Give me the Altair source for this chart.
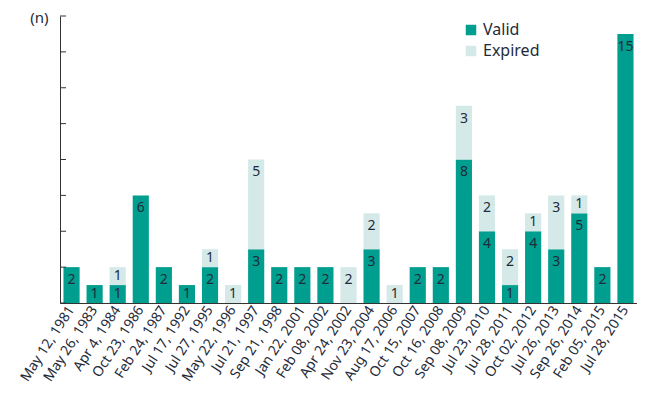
import altair as alt
import pandas as pd

dates = ["May 12, 1981", "May 26, 1983", "Apr 4, 1984", "Oct 23, 1986", "Feb 24, 1987",
         "Jul 17, 1992", "Jul 27, 1995", "May 22, 1996", "Jul 21, 1997", "Sep 21, 1998",
         "Jan 22, 2001", "Feb 08, 2002", "Apr 24, 2002", "Nov 23, 2004", "Aug 17, 2006",
         "Oct 15, 2007", "Oct 16, 2008", "Sep 08, 2009", "Jul 23, 2010", "Jul 28, 2011",
         "Oct 02, 2012", "Jul 26, 2013", "Sep 26, 2014", "Feb 05, 2015", "Jul 28, 2015"]
valid = [2, 1, 1, 6, 2, 1, 2, 0, 3, 2, 2, 2, 0, 3, 0, 2, 2, 8, 4, 1, 4, 3, 5, 2, 15]
expired = [0, 0, 1, 0, 0, 0, 1, 1, 5, 0, 0, 0, 2, 2, 1, 0, 0, 3, 2, 2, 1, 3, 1, 0, 0]
statuses = ["Valid", "Expired"]
tick_values = [0, 2, 4, 6, 8, 10, 12, 14, 16]

rows = []
for d, v, e in zip(dates, valid, expired):
    rows.append({"date": d, "status": "Valid", "n": v, "y0": 0, "y1": v})
    rows.append({"date": d, "status": "Expired", "n": e, "y0": v, "y1": v + e})
df = pd.DataFrame(rows)
lab = df[df["n"] > 0]
ticks = pd.DataFrame({"t": tick_values})

FONT = "Noto Sans"
TXT = "#1f2b3a"

x_enc = alt.X("date:N", sort=dates, title=None,
              scale=alt.Scale(paddingInner=0.3, paddingOuter=0.15),
              axis=alt.Axis(labelAngle=-57, ticks=False, domainColor="#333333",
                            labelFont=FONT, labelFontSize=14, labelColor=TXT,
                            labelPadding=4))
y_scale = alt.Scale(domain=[0, 16], nice=False)

bars = alt.Chart(df).mark_bar().encode(
    x=x_enc,
    y=alt.Y("y0:Q", scale=y_scale,
            axis=alt.Axis(values=tick_values, labels=False, ticks=False, grid=False,
                          domainColor="#333333", title="(n)", titleAngle=0,
                          titleAlign="right", titleBaseline="middle",
                          titleX=-12, titleY=1, titleFont=FONT, titleFontSize=15,
                          titleFontWeight="normal", titleColor=TXT)),
    y2="y1:Q",
    color=alt.Color("status:N", sort=statuses,
                    scale=alt.Scale(domain=statuses, range=["#009e8e", "#d4e9e8"]),
                    legend=alt.Legend(title=None, orient="none", legendX=403, legendY=6,
                                      symbolType="square", symbolSize=110,
                                      symbolStrokeWidth=0, labelFont=FONT,
                                      labelFontSize=16, labelColor=TXT,
                                      rowPadding=5)),
)

labels = alt.Chart(lab).transform_calculate(
    ly="max(datum.y1 - 0.72, (datum.y0 + datum.y1) / 2)"
).mark_text(font=FONT, fontSize=14, color=TXT, baseline="middle").encode(
    x=alt.X("date:N", sort=dates),
    y=alt.Y("ly:Q", scale=y_scale),
    text="n:Q",
)

tickmarks = alt.Chart(ticks).mark_rule(color="#333333", strokeWidth=1).encode(
    y=alt.Y("t:Q", scale=y_scale),
    x=alt.value(0),
    x2=alt.value(6),
)

chart = alt.layer(bars, labels, tickmarks).properties(
    width=577, height=287,
    autosize=alt.AutoSizeParams(type="none"),
    padding={"left": 52, "top": 8, "right": 0, "bottom": 96},
).configure_view(stroke=None)

chart.save("out.html", embed_options={"renderer": "svg", "actions": False})
